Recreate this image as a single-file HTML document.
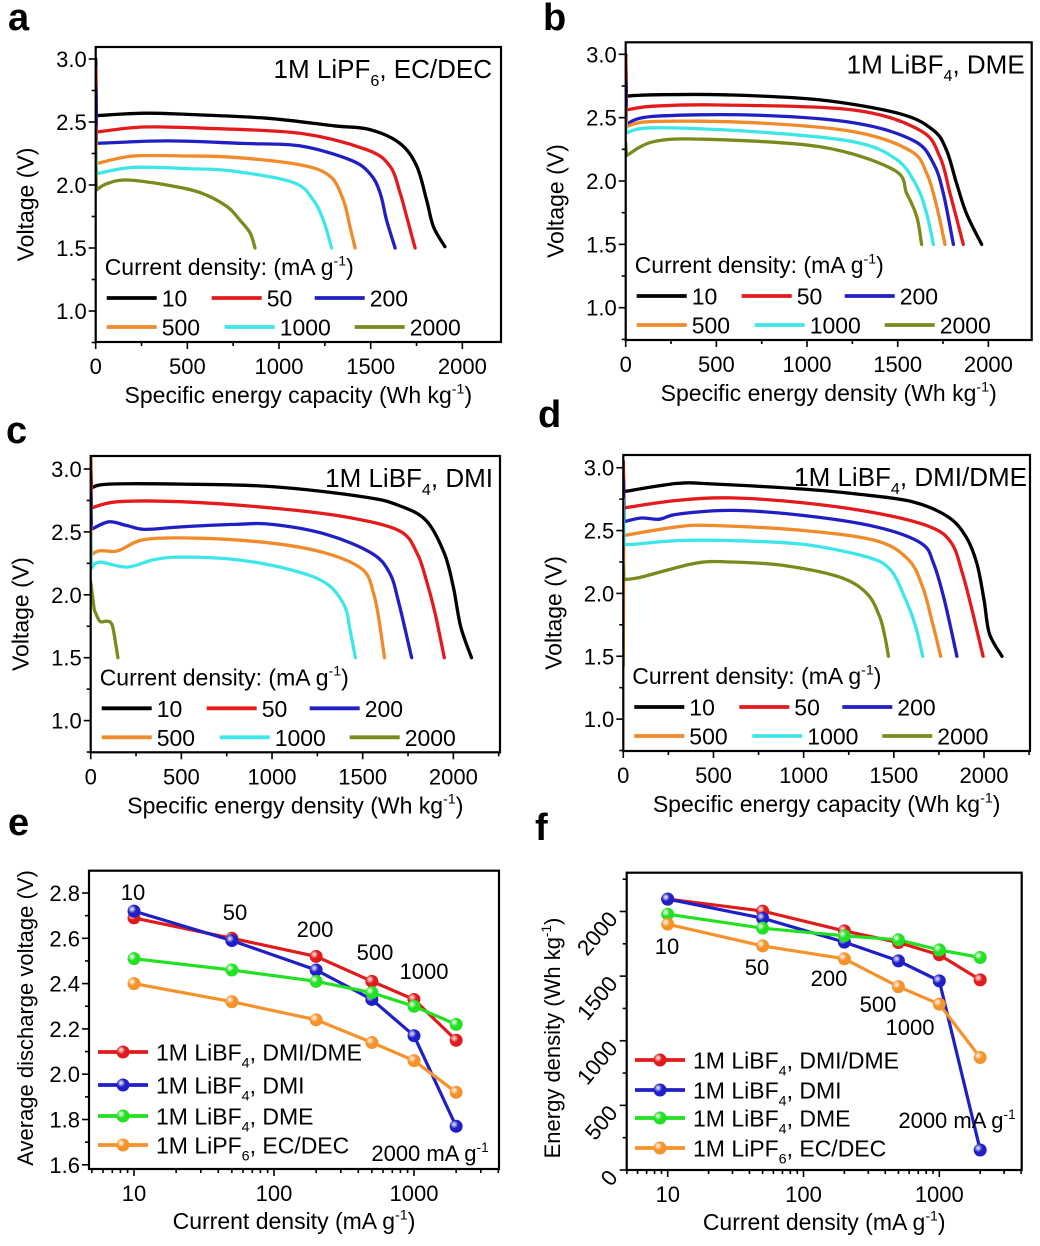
<!DOCTYPE html>
<html><head><meta charset="utf-8">
<style>
html,body{margin:0;padding:0;background:#fff;}
svg{display:block;font-family:"Liberation Sans",Arial,sans-serif;}
</style></head>
<body>
<svg id="fig" width="1040" height="1246" viewBox="0 0 1040 1246" xmlns="http://www.w3.org/2000/svg">
<defs id="defs"></defs>
<rect x="0" y="0" width="1040" height="1246" fill="#fff"/>
<text x="8" y="30" font-size="38" font-weight="bold">a</text>
<text x="543" y="30" font-size="38" font-weight="bold">b</text>
<text x="6" y="443" font-size="38" font-weight="bold">c</text>
<text x="538" y="427" font-size="38" font-weight="bold">d</text>
<text x="8" y="835" font-size="38" font-weight="bold">e</text>
<text x="535" y="840" font-size="38" font-weight="bold">f</text>
</svg>
<script>
// ---------- data: panel a (Wh/kg, V) ----------
const a10=[[0,3.0],[4,2.55],[260,2.57],[500,2.56],[933,2.53],[1300,2.47],[1496,2.44],[1660,2.33],[1751,2.15],[1805,1.88],[1842,1.67],[1905,1.51]];
const a50=[[0,2.93],[4,2.42],[260,2.46],[600,2.45],[1115,2.41],[1478,2.28],[1605,2.15],[1660,1.94],[1696,1.75],[1742,1.5]];
const a200=[[0,2.77],[4,2.33],[387,2.35],[800,2.33],[1115,2.31],[1387,2.2],[1496,2.09],[1551,1.94],[1587,1.72],[1633,1.5]];
const a500=[[0,2.47],[4,2.17],[205,2.23],[500,2.23],[751,2.22],[1115,2.16],[1278,2.07],[1351,1.88],[1387,1.67],[1415,1.5]];
const a1000=[[0,2.27],[4,2.09],[205,2.14],[500,2.13],[751,2.11],[1078,2.02],[1187,1.88],[1242,1.72],[1287,1.5]];
const a2000=[[0,2.15],[4,1.96],[60,2.01],[169,2.04],[387,2.0],[569,1.94],[715,1.83],[787,1.72],[842,1.62],[869,1.5]];
// ---------- panel b ----------
const b10=[[0,3.0],[4,2.67],[153,2.68],[548,2.68],[1072,2.64],[1513,2.53],[1697,2.4],[1770,2.24],[1825,1.98],[1880,1.74],[1963,1.5]];
const b50=[[0,2.98],[4,2.56],[150,2.59],[520,2.6],[1255,2.56],[1623,2.4],[1733,2.19],[1789,1.9],[1862,1.5]];
const b200=[[0,2.78],[4,2.45],[153,2.51],[704,2.52],[1255,2.46],[1586,2.32],[1697,2.14],[1752,1.9],[1807,1.5]];
const b500=[[0,2.58],[4,2.43],[153,2.47],[704,2.46],[1255,2.39],[1568,2.24],[1660,2.06],[1715,1.8],[1761,1.5]];
const b1000=[[0,2.45],[4,2.38],[153,2.42],[704,2.39],[1255,2.31],[1494,2.17],[1605,1.96],[1660,1.74],[1697,1.5]];
const b2000=[[0,2.3],[4,2.2],[153,2.31],[428,2.33],[1072,2.27],[1476,2.09],[1550,1.9],[1605,1.72],[1632,1.5]];
// ---------- panel c ----------
const c10=[[0,3.05],[4,2.85],[100,2.88],[500,2.88],[1000,2.86],[1500,2.78],[1700,2.71],[1850,2.59],[1950,2.33],[2000,2.06],[2040,1.75],[2100,1.5]];
const c50=[[0,3.1],[4,2.69],[150,2.74],[500,2.74],[1000,2.69],[1400,2.62],[1700,2.51],[1800,2.33],[1850,2.12],[1900,1.85],[1950,1.5]];
const c200=[[0,2.8],[4,2.52],[100,2.58],[200,2.55],[300,2.52],[500,2.54],[800,2.56],[1000,2.56],[1300,2.48],[1550,2.33],[1650,2.17],[1700,1.93],[1770,1.5]];
const c500=[[0,2.55],[4,2.32],[50,2.35],[150,2.35],[300,2.44],[600,2.45],[1000,2.41],[1300,2.33],[1500,2.2],[1560,2.01],[1590,1.8],[1620,1.5]];
const c1000=[[0,2.45],[4,2.21],[50,2.26],[200,2.22],[350,2.28],[500,2.3],[800,2.28],[1100,2.2],[1300,2.09],[1400,1.91],[1430,1.72],[1460,1.5]];
const c2000=[[0,2.1],[20,1.88],[50,1.79],[85,1.79],[110,1.78],[125,1.72],[150,1.5]];
// ---------- panel d ----------
const d10=[[0,2.95],[4,2.81],[300,2.875],[500,2.87],[1000,2.83],[1300,2.79],[1600,2.73],[1800,2.61],[1900,2.45],[1960,2.24],[2000,1.95],[2030,1.68],[2100,1.5]];
const d50=[[0,3.05],[4,2.68],[300,2.74],[600,2.76],[1000,2.72],[1400,2.64],[1700,2.53],[1820,2.4],[1880,2.16],[1930,1.89],[1995,1.5]];
const d200=[[0,2.9],[4,2.57],[100,2.6],[200,2.59],[300,2.63],[600,2.66],[1000,2.62],[1400,2.53],[1650,2.4],[1720,2.24],[1780,1.95],[1850,1.5]];
const d500=[[0,1.42],[2,2.46],[300,2.53],[500,2.54],[1000,2.5],[1400,2.42],[1580,2.27],[1660,2.05],[1710,1.79],[1760,1.5]];
const d1000=[[0,2.75],[4,2.39],[50,2.39],[300,2.42],[600,2.42],[1000,2.39],[1350,2.29],[1480,2.19],[1560,1.97],[1620,1.74],[1660,1.5]];
const d2000=[[0,2.22],[4,2.11],[100,2.13],[400,2.24],[600,2.25],[900,2.22],[1200,2.13],[1350,2.0],[1420,1.82],[1450,1.66],[1470,1.5]];
// ---------- panels e, f ----------
const rateCategories=[10,50,200,500,1000,2000];
const eDmiDme=[2.69,2.60,2.52,2.41,2.33,2.15];
const eDmi=[2.72,2.59,2.46,2.33,2.17,1.77];
const eDme=[2.51,2.46,2.41,2.36,2.30,2.22];
const eEcDec=[2.40,2.32,2.24,2.14,2.06,1.92];
const fDmiDme=[2096,2003,1850,1760,1665,1471];
const fDmi=[2096,1948,1763,1618,1463,155];
const fDme=[1979,1871,1812,1781,1703,1644];
const fEcDec=[1902,1734,1634,1419,1283,870];
const voltTicks=[1.0,1.5,2.0,2.5,3.0];
const capTicks=[0,500,1000,1500,2000];
const eTicks=[1.6,1.8,2.0,2.2,2.4,2.6,2.8];
const fTicks=[0,500,1000,1500,2000];
const logTicks=[10,100,1000];

const NS="http://www.w3.org/2000/svg";
const svg=document.getElementById('fig');
const defs=document.getElementById('defs');
const TICK=22, AX=23, LEG=23, TTL=26;
function mk(tag,attrs,parent){const e=document.createElementNS(NS,tag);for(const k in attrs)e.setAttribute(k,attrs[k]);(parent||svg).appendChild(e);return e;}
const curveColors={k10:'#000000',k50:'#e41a1c',k200:'#1f1fc4',k500:'#f08a2a',k1000:'#3ee6e8',k2000:'#7b8a1c'};

function smoothPath(pts){
  let d='M'+pts[0][0].toFixed(1)+','+pts[0][1].toFixed(1);
  if(pts.length<3){for(let i=1;i<pts.length;i++)d+='L'+pts[i][0]+','+pts[i][1];return d;}
  d+='L'+pts[1][0].toFixed(1)+','+pts[1][1].toFixed(1);
  for(let i=1;i<pts.length-1;i++){
    const p0=pts[i-1<1?1:i-1],p1=pts[i],p2=pts[i+1],p3=pts[i+2]||pts[i+1];
    const c1=[p1[0]+(p2[0]-p0[0])/6,p1[1]+(p2[1]-p0[1])/6];
    const c2=[p2[0]-(p3[0]-p1[0])/6,p2[1]-(p3[1]-p1[1])/6];
    d+='C'+c1[0].toFixed(1)+','+c1[1].toFixed(1)+' '+c2[0].toFixed(1)+','+c2[1].toFixed(1)+' '+p2[0].toFixed(1)+','+p2[1].toFixed(1);
  }
  return d;
}

function textSub(g,x,y,parts,size,anchor,name){
  const t=mk('text',{x:x,y:y,'font-size':size,'text-anchor':anchor||'start'},g);
  
  
  parts.forEach(p=>{
    const s=mk('tspan',{},t);
    if(p.sub){s.setAttribute('font-size',size*0.62);s.setAttribute('dy',size*0.3);}
    if(p.sup){s.setAttribute('font-size',size*0.62);s.setAttribute('dy',-size*0.42);}
    if(p.back){s.setAttribute('dy',p.back*size);}
    s.textContent=p.t;
  });
  return t;
}

function voltPanel(id,L,R,T,B,xper,y3,vper,series,title,titleRight,xtitle){
  const g=mk('g',{});
  
  
  const sx=v=>L+v*xper, sy=v=>y3+(3-v)*vper;
  const cp=mk('clipPath',{id:'clip'+id},defs);
  mk('rect',{x:L,y:T,width:R-L,height:B-T},cp);
  for(let v=0.75;v<=3.01;v+=0.25){const y=sy(v);if(y>B+0.5)continue;const maj=Math.abs(v*2-Math.round(v*2))<0.01;
    const tk=mk('line',{x1:L-(maj?7:4),x2:L,y1:y,y2:y,stroke:'#000','stroke-width':1.6},g);
    }
  voltTicks.forEach(v=>{const t=mk('text',{x:L-9,y:sy(v)+8,'font-size':TICK,'text-anchor':'end'},g);
    t.textContent=v.toFixed(1);});
  for(let v=0;v*xper<=R-L+0.5;v+=250){const x=sx(v);const maj=v%500===0;
    const tk=mk('line',{x1:x,x2:x,y1:B,y2:B+(maj?7:4),stroke:'#000','stroke-width':1.6},g);
    }
  capTicks.forEach(v=>{const t=mk('text',{x:sx(v),y:B+32,'font-size':TICK,'text-anchor':'middle'},g);
    t.textContent=v;});
  const cg=mk('g',{'clip-path':'url(#clip'+id+')'},g);
  series.forEach(s=>{
    const pts=s.data.map(p=>[sx(p[0]),sy(p[1])]);
    const p=mk('path',{d:smoothPath(pts),fill:'none',stroke:s.color,'stroke-width':3.3,'stroke-linejoin':'round','stroke-linecap':'round'},cg);
    
    
  });
  const fr=mk('rect',{x:L,y:T,width:R-L,height:B-T,fill:'none',stroke:'#000','stroke-width':2.2},g);
  
  textSub(g,R-titleRight,T+31,title,TTL,'end','panel-title');
  textSub(g,L+9,B-67,[{t:'Current density: (mA g'},{t:'-1',sup:true},{t:')',back:0.42}],LEG,'start','legend-title');
  const offs=[[0,-44],[105,-44],[208,-44],[0,-15],[118,-15],[248,-15]];
  series.forEach((s,i)=>{
    const x0=L+11+offs[i][0], y=B+offs[i][1];
    const ln=mk('line',{x1:x0,x2:x0+50,y1:y,y2:y,stroke:s.color,'stroke-width':3.8},g);
    
    const t=mk('text',{x:x0+55,y:y+8.5,'font-size':LEG},g);
    t.textContent=s.label;
  });
  textSub(g,(L+R)/2,B+61,[{t:xtitle},{t:'-1',sup:true},{t:')',back:0.42}],AX,'middle','x-axis-title');
  const yt=mk('text',{x:0,y:0,'font-size':AX,'text-anchor':'middle',transform:'translate('+(L-62)+','+((T+B)/2+10)+') rotate(-90)'},g);
  yt.textContent='Voltage (V)';
}
function mkSeries(arrs){const labels=['10','50','200','500','1000','2000'];const cols=['k10','k50','k200','k500','k1000','k2000'];
  return arrs.map((d,i)=>({data:d,label:labels[i],color:curveColors[cols[i]]}));}

voltPanel('a',95.7,501,47,342,0.18333,59,126,mkSeries([a10,a50,a200,a500,a1000,a2000]),
  [{t:'1M LiPF'},{t:'6',sub:true},{t:', EC/DEC',back:-0.3}],9,'Specific energy capacity (Wh kg');
voltPanel('b',625.7,1031.7,42.3,340,0.18133,54.3,126.7,mkSeries([b10,b50,b200,b500,b1000,b2000]),
  [{t:'1M LiBF'},{t:'4',sub:true},{t:', DME',back:-0.3}],7,'Specific energy density (Wh kg');
voltPanel('c',90.7,500,456,752.3,0.18133,469,125.8,mkSeries([c10,c50,c200,c500,c1000,c2000]),
  [{t:'1M LiBF'},{t:'4',sub:true},{t:', DMI',back:-0.3}],7,'Specific energy density (Wh kg');
voltPanel('d',623.3,1030,455,751,0.18035,467.7,125.7,mkSeries([d10,d50,d200,d500,d1000,d2000]),
  [{t:'1M LiBF'},{t:'4',sub:true},{t:', DMI/DME',back:-0.3}],3,'Specific energy capacity (Wh kg');

const markerCols={red:'#e01b1b',blue:'#1f1fc8',green:'#22e022',orange:'#f5922a'};
for(const k in markerCols){
  const rg=mk('radialGradient',{id:'g'+k,cx:'0.35',cy:'0.35',r:'0.7'},defs);
  mk('stop',{offset:'0','stop-color':'#ffffff','stop-opacity':'0.9'},rg);
  mk('stop',{offset:'0.45','stop-color':markerCols[k]},rg);
  mk('stop',{offset:'1','stop-color':markerCols[k]},rg);
}

function ratePanel(id,L,R,T,B,lx10,decade,yv0,yp0,yper,series,yTicksArr,minorStep,fmt,rotLabels){
  const g=mk('g',{});
  
  
  const sx=v=>lx10+(Math.log10(v)-1)*decade, sy=v=>yp0-(v-yv0)*yper;
  const yLo=yv0-(B-yp0)/yper, yHi=yv0+(yp0-T)/yper;
  for(let v=Math.ceil(yLo/minorStep)*minorStep;v<=yHi+1e-9;v+=minorStep){
    const y=sy(v);const maj=yTicksArr.some(t=>Math.abs(t-v)<1e-6);
    const tk=mk('line',{x1:L-(maj?7:4),x2:L,y1:y,y2:y,stroke:'#000','stroke-width':1.6},g);
    }
  yTicksArr.forEach(v=>{let t;
    if(rotLabels){t=mk('text',{x:0,y:0,'font-size':TICK,'text-anchor':'end',transform:'translate('+(L-8)+','+(sy(v)+8)+') rotate(-50)'},g);}
    else{t=mk('text',{x:L-9,y:sy(v)+8,'font-size':TICK,'text-anchor':'end'},g);}
    t.textContent=fmt(v);});
  for(let dec=1;dec<=1000;dec*=10){for(let m=1;m<10;m++){const v=dec*m;const x=sx(v);if(x<L-0.5||x>R+0.5)continue;
    const maj=m===1;const tk=mk('line',{x1:x,x2:x,y1:B,y2:B+(maj?7:4),stroke:'#000','stroke-width':1.6},g);
    }}
  logTicks.forEach(v=>{const t=mk('text',{x:sx(v),y:B+32,'font-size':TICK,'text-anchor':'middle'},g);
    t.textContent=v;});
  series.forEach(s=>{
    const pts=rateCategories.map((c,i)=>sx(c).toFixed(1)+','+sy(s.vals[i]).toFixed(1)).join(' ');
    const pl=mk('polyline',{points:pts,fill:'none',stroke:markerCols[s.col],'stroke-width':3.2},g);
    
  });
  series.forEach(s=>{
    rateCategories.forEach((c,i)=>{
      const m=mk('circle',{cx:sx(c),cy:sy(s.vals[i]),r:6.5,fill:'url(#g'+s.col+')'},g);
      
    });
  });
  const fr=mk('rect',{x:L,y:T,width:R-L,height:B-T,fill:'none',stroke:'#000','stroke-width':2.2},g);
  
  textSub(g,(L+R)/2,B+60,[{t:'Current density (mA g'},{t:'-1',sup:true},{t:')',back:0.42}],AX,'middle','x-axis-title');
  return g;
}
const legendDefs=[
  {key:'dmi-dme',col:'red',parts:[{t:'1M LiBF'},{t:'4',sub:true},{t:', DMI/DME',back:-0.3}]},
  {key:'dmi',col:'blue',parts:[{t:'1M LiBF'},{t:'4',sub:true},{t:', DMI',back:-0.3}]},
  {key:'dme',col:'green',parts:[{t:'1M LiBF'},{t:'4',sub:true},{t:', DME',back:-0.3}]},
  {key:'ec-dec',col:'orange',parts:[{t:'1M LiPF'},{t:'6',sub:true},{t:', EC/DEC',back:-0.3}]}];
function rateLegend(g,x0,ys){
  legendDefs.forEach((l,i)=>{
    const ln=mk('line',{x1:x0,x2:x0+50,y1:ys[i],y2:ys[i],stroke:markerCols[l.col],'stroke-width':3.8},g);
    
    const c=mk('circle',{cx:x0+25,cy:ys[i],r:6.5,fill:'url(#g'+l.col+')'},g);
    
    textSub(g,x0+58,ys[i]+8.5,l.parts,LEG,'start','legend-label-'+l.key);
  });
}
function annot(g,x,y,txt,sup){return textSub(g,x,y,sup?[{t:txt},{t:'-1',sup:true}]:[{t:txt}],22,'middle','rate-annotation');}

const ge=ratePanel('e',89,499,870.7,1169,134,140,2.8,893,226.5,
  [{key:'dmi-dme',col:'red',vals:eDmiDme},{key:'dmi',col:'blue',vals:eDmi},{key:'dme',col:'green',vals:eDme},{key:'ec-dec',col:'orange',vals:eEcDec}],
  eTicks,0.1,v=>v.toFixed(1),false);
rateLegend(ge,98,[1052,1085,1116,1145]);
annot(ge,133,900,'10');annot(ge,235,920,'50');annot(ge,315,937,'200');annot(ge,375,960,'500');annot(ge,424,979,'1000');
annot(ge,430,1161,'2000 mA g',true);
const yte=mk('text',{x:0,y:0,'font-size':22,'text-anchor':'middle',transform:'translate(33,1018) rotate(-90)'},ge);
yte.textContent='Average discharge voltage (V)';

const gf=ratePanel('f',626.7,1021.7,872.7,1170,667.7,135.8,0,1170,0.12925,
  [{key:'dmi-dme',col:'red',vals:fDmiDme},{key:'dmi',col:'blue',vals:fDmi},{key:'dme',col:'green',vals:fDme},{key:'ec-dec',col:'orange',vals:fEcDec}],
  fTicks,250,v=>String(v),true);
rateLegend(gf,635,[1060,1090,1118,1148]);
annot(gf,667,954,'10');annot(gf,757,975,'50');annot(gf,829,986,'200');annot(gf,878,1012,'500');annot(gf,910,1035,'1000');
annot(gf,957,1128,'2000 mA g',true);
const ytf=textSub(gf,0,0,[{t:'Energy density (Wh kg'},{t:'-1',sup:true},{t:')',back:0.42}],22,'middle','y-axis-title');
ytf.setAttribute('transform','translate(560,1038) rotate(-90)');
</script>
</body></html>
